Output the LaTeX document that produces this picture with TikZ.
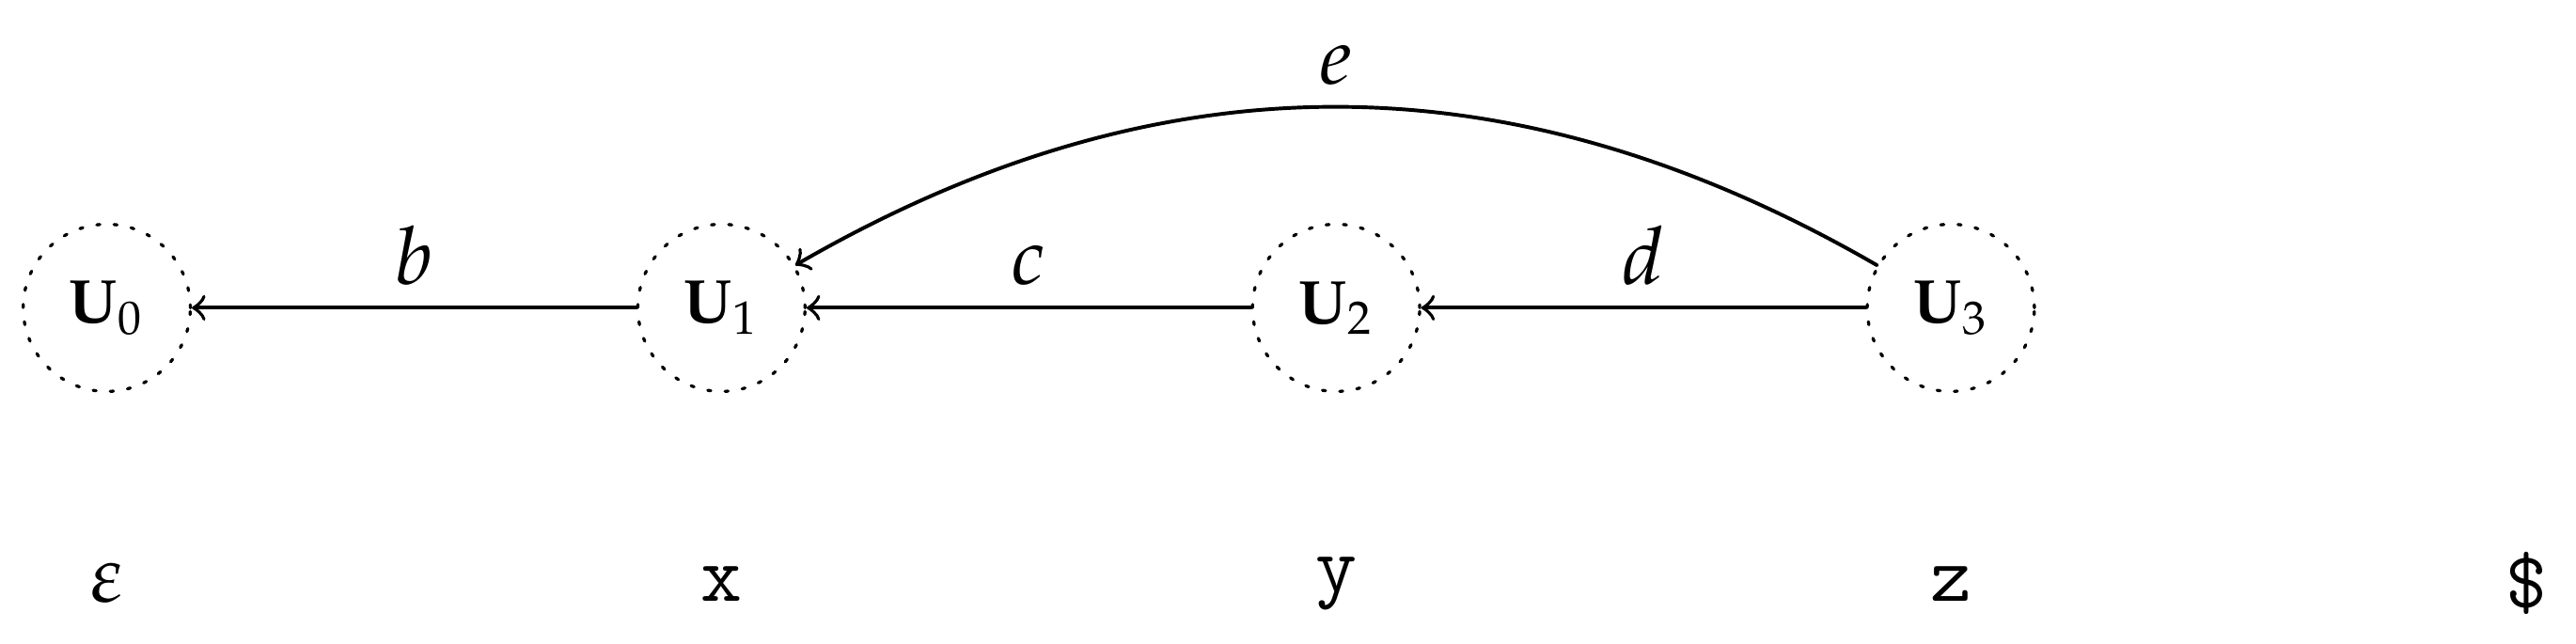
\documentclass[tikz,border=0pt]{standalone}
\usepackage{amsmath}
\usepackage{mathpazo}
\usepackage{tikz}
\tikzset{
  vertex/.style={circle, draw, line width=0.5pt, dash pattern=on 0.5pt off 2.3pt, minimum size=0.952cm, inner sep=0pt},
  lbl/.style={font=\fontsize{13}{15}\selectfont},
}

\begin{document}
\begin{tikzpicture}[line cap=round,line join=round,line width=0.6pt,scale=1]
            \useasboundingbox (-0.608,-1.909) rectangle (14.06,1.753);

            \node[vertex] (U0) at (0, 0) {\(\mathbf{U}_0\)};
            \node[vertex] (U1) at (3.5, 0) {\(\mathbf{U}_1\)};
            \node[vertex] (U2) at (7, 0) {\(\mathbf{U}_2\)};
            \node[vertex] (U3) at (10.5, 0) {\(\mathbf{U}_3\)};

            \draw[->] (U1) -- node[lbl,anchor=south] {\(b\)} (U0);
            \draw[->] (U2) -- node[lbl,anchor=south] {\(c\)} (U1);
            \draw[->] (U3) -- node[lbl,anchor=south] {\(d\)} (U2);
            \draw[->] (U3) to[bend right=30] node[lbl,anchor=south] {\(e\)} (U1);

            \node[lbl] (eps) at (0, -1.57) {\(\varepsilon\)};
            \node[lbl] (sx) at (3.5, -1.57) {\texttt{x}};
            \node[lbl] (sy) at (7, -1.57) {\texttt{y}};
            \node[lbl] (sz) at (10.5, -1.57) {\texttt{z}};
            \node[lbl] (send) at (13.78, -1.57) {\texttt{\$}};
        \end{tikzpicture}
\end{document}
